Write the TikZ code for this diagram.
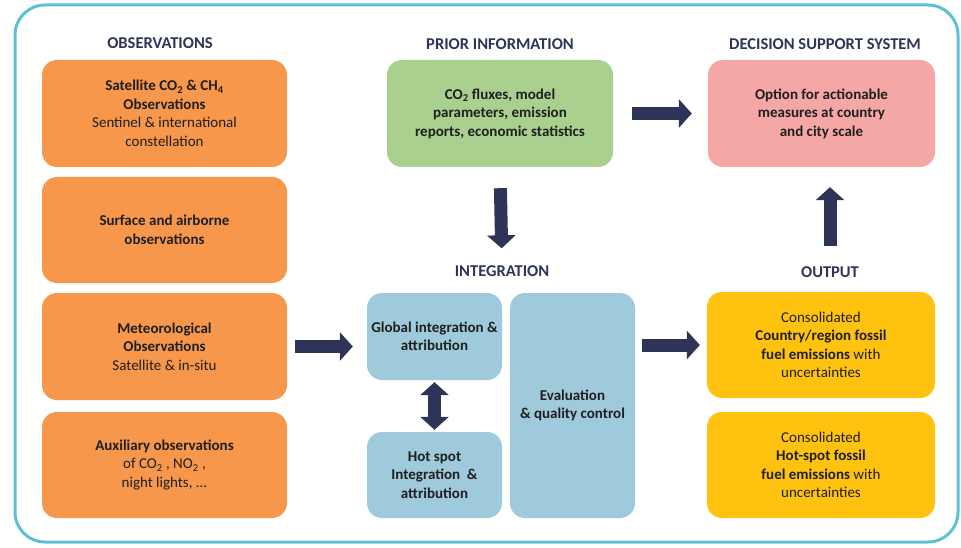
\documentclass[tikz,border=0pt]{standalone}
\usepackage{fontspec}
\setmainfont{Carlito}
\usetikzlibrary{arrows.meta}
\definecolor{obsorange}{HTML}{F7974B}
\definecolor{priorgreen}{HTML}{A9D08E}
\definecolor{dsspink}{HTML}{F5A7A6}
\definecolor{intblue}{HTML}{9FCADB}
\definecolor{outyellow}{HTML}{FFC20F}
\definecolor{navy}{HTML}{2E3457}
\definecolor{framecyan}{HTML}{5FC0D4}

\begin{document}
\begin{tikzpicture}[x = 1pt, y = -1pt]
    \tikzstyle{every node} = [align = center, font = \fontsize{15}{18.5}\selectfont, text = black!88];
    \tikzstyle{box} = [rectangle, rounded corners = 15pt, inner sep = 0pt];
    \tikzstyle{heading} = [font = \fontsize{16.5}{18}\selectfont\bfseries, text = navy, inner sep = 0pt, text height = 11pt, text depth = 0pt];
    \tikzstyle{bigarrow} = [draw = navy, line width = 13pt, -{Triangle[length = 13pt, width = 28pt]}];
    \useasboundingbox (0,0) rectangle (961,548);
    \draw[framecyan, line width = 3pt, rounded corners = 30pt] (15,5) rectangle (958,542);
    % headings:
    \node[heading] (obslab) at (160,43) {OBSERVATIONS};
    \node[heading] (priorlab) at (500,44) {PRIOR INFORMATION};
    \node[heading] (dsslab) at (825,44) {DECISION SUPPORT SYSTEM};
    \node[heading] (intlab) at (502,271) {INTEGRATION};
    \node[heading] (outlab) at (830,272) {OUTPUT};
    % observations:
    \node[box, fill = obsorange, minimum width = 245pt, minimum height = 107pt] (sat) at (164.5,113.5)
        {\textbf{Satellite CO\textsubscript{2} \& CH\textsubscript{4}}\\ \textbf{Observations}\\ Sentinel \& international\\ constellation};
    \node[box, fill = obsorange, minimum width = 245pt, minimum height = 106pt] (surf) at (164.5,230)
        {\textbf{Surface and airborne}\\ \textbf{observations}};
    \node[box, fill = obsorange, minimum width = 245pt, minimum height = 107pt] (met) at (164.5,346.5)
        {\textbf{Meteorological}\\ \textbf{Observations}\\ Satellite \& in-situ};
    \node[box, fill = obsorange, minimum width = 245pt, minimum height = 106pt] (aux) at (164.5,465)
        {\textbf{Auxiliary observations}\\ of CO\textsubscript{2} , NO\textsubscript{2} ,\\ night lights, ...};
    % prior information and decision support:
    \node[box, fill = priorgreen, minimum width = 226pt, minimum height = 107pt] (prior) at (500,113.5)
        {\textbf{CO\textsubscript{2} fluxes, model}\\ \textbf{parameters, emission}\\ \textbf{reports, economic statistics}};
    \node[box, fill = dsspink, minimum width = 227pt, minimum height = 107pt] (dss) at (821.5,113.5)
        {\textbf{Option for actionable}\\ \textbf{measures at country}\\ \textbf{and city scale}};
    % integration:
    \node[box, fill = intblue, minimum width = 135pt, minimum height = 87pt] (glob) at (434.5,336.5)
        {\textbf{Global integration \&}\\ \textbf{attribution}};
    \node[box, fill = intblue, minimum width = 135pt, minimum height = 86pt] (hot) at (434.5,475)
        {\textbf{Hot spot}\\ \textbf{Integration \ \&}\\ \textbf{attribution}};
    \node[box, fill = intblue, minimum width = 125pt, minimum height = 225pt] (eval) at (572.5,405.5)
        {\textbf{Evaluation}\\ \textbf{\& quality control}};
    % output:
    \node[box, fill = outyellow, minimum width = 228pt, minimum height = 106pt] (out1) at (821,345)
        {Consolidated\\ \textbf{Country/region fossil}\\ \textbf{fuel emissions} with\\ uncertainties};
    \node[box, fill = outyellow, minimum width = 228pt, minimum height = 106pt] (out2) at (821,465)
        {Consolidated\\ \textbf{Hot-spot fossil}\\ \textbf{fuel emissions} with\\ uncertainties};
    % arrows:
    \draw[bigarrow, shorten < = 8pt, shorten > = 14pt] (met.east) -- (met.east -| glob.west);
    \draw[bigarrow, shorten < = 19pt, shorten > = 16pt] (prior.east) -- (dss.west);
    \draw[bigarrow, shorten < = 21pt, shorten > = 17pt] (prior.south) -- (intlab.north);
    \draw[bigarrow, {Triangle[length = 13pt, width = 28pt]}-{Triangle[length = 13pt, width = 28pt]}, shorten < = 2pt, shorten > = 2pt] (glob.south) -- (hot.north);
    \draw[bigarrow, shorten < = 7pt, shorten > = 7pt] (eval.east |- out1.west) -- (out1.west);
    \draw[bigarrow, shorten < = 20pt, shorten > = 20pt] (outlab.north) -- (outlab.north |- dss.south);
  \end{tikzpicture}
\end{document}
